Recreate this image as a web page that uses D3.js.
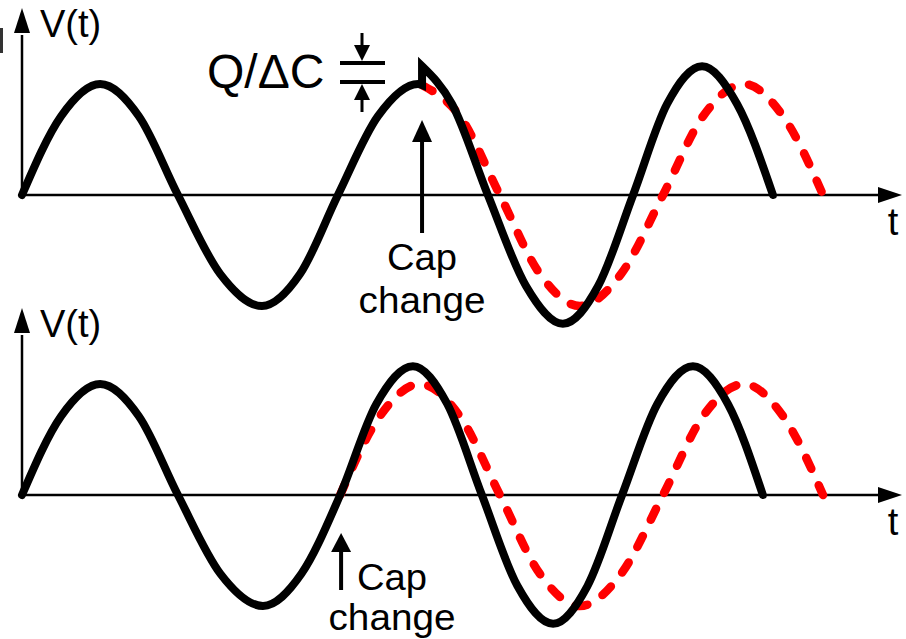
<!DOCTYPE html>
<html>
<head>
<meta charset="utf-8">
<script src="https://cdn.jsdelivr.net/npm/d3@7"></script>
<style>
  html, body { margin: 0; padding: 0; background: #fff; }
  svg { display: block; }
  text { font-family: "Liberation Sans", Arial, sans-serif; fill: #000; }
</style>
</head>
<body>
<div id="chart"></div>
<script>
// time in units of the original period, V in units of the original amplitude
// points (peaks, zero crossings and the points half way between)

// top panel: cap change near the peak, voltage jumps by Q/dC
var topBlackBefore = [[0,0],[0.124,0.71],[0.248,1],[0.371,0.71],[0.495,0],[0.629,-0.71],[0.762,-1],[0.883,-0.71],[1.003,0],[1.13,0.71],[1.257,1],[1.27,0.99]];
var topBlackAfter = [[1.27,1.16],[1.365,0.82],[1.479,0],[1.6,-0.82],[1.717,-1.16],[1.829,-0.82],[1.94,0],[2.048,0.82],[2.159,1.16],[2.27,0.82],[2.384,0]];
var topRed = [[1.27,0.99],[1.39,0.71],[1.517,0],[1.644,-0.71],[1.771,-1],[1.902,-0.71],[2.035,0],[2.162,0.71],[2.292,1],[2.416,0.71],[2.543,0]];

// bottom panel: cap change at the zero crossing
var bottomBlack = [[0,0],[0.124,0.71],[0.248,1],[0.371,0.71],[0.495,0],[0.63,-0.71],[0.765,-1],[0.887,-0.71],[1.01,0],[1.125,0.82],[1.241,1.16],[1.35,0.82],[1.46,0],[1.573,-0.82],[1.686,-1.16],[1.795,-0.82],[1.905,0],[2.017,0.82],[2.13,1.16],[2.241,0.82],[2.352,0]];
var bottomRed = [[1.01,0],[1.136,0.71],[1.263,1],[1.39,0.71],[1.517,0],[1.644,-0.71],[1.771,-1],[1.902,-0.71],[2.035,0],[2.162,0.71],[2.292,1],[2.416,0.71],[2.543,0]];

var capChangeT = [1.27, 1.013];
var axisLabels = ["V(t)", "t"];
var capLabel = ["Cap", "change"];

var width = 906, height = 639;

var svg = d3.select("#chart").append("svg")
    .attr("width", width)
    .attr("height", height);

var x = d3.scaleLinear().domain([0, 2.75]).range([22, 22 + 2.75 * 315]);

var panels = [
    { axisY: 195, black: [topBlackBefore, topBlackAfter], red: topRed },
    { axisY: 495, black: [bottomBlack], red: bottomRed }
];

// small stray mark on the left edge of the original
svg.append("rect").attr("x", 0).attr("y", 28).attr("width", 3).attr("height", 25).attr("fill", "#333");

panels.forEach(function(p, i) {
    var y = d3.scaleLinear().domain([-1, 1]).range([p.axisY + 111, p.axisY - 111]);
    var g = svg.append("g");

    // axes
    g.append("line")
        .attr("x1", x(0)).attr("x2", 880)
        .attr("y1", p.axisY).attr("y2", p.axisY)
        .attr("stroke", "#000").attr("stroke-width", 2.5);
    g.append("path")
        .attr("d", "M878," + (p.axisY - 8) + "L902," + p.axisY + "L878," + (p.axisY + 8) + "Z")
        .attr("fill", "#000");
    g.append("line")
        .attr("x1", x(0)).attr("x2", x(0))
        .attr("y1", p.axisY).attr("y2", p.axisY - 160)
        .attr("stroke", "#000").attr("stroke-width", 2.5);
    g.append("path")
        .attr("d", "M" + (x(0) - 8) + "," + (p.axisY - 162) + "L" + x(0) + "," + (p.axisY - 187) + "L" + (x(0) + 8) + "," + (p.axisY - 162) + "Z")
        .attr("fill", "#000");

    g.append("text")
        .attr("x", 40).attr("y", p.axisY - 158)
        .style("font-size", "38px")
        .text(axisLabels[0]);
    g.append("text")
        .attr("x", 893).attr("y", p.axisY + 40)
        .attr("text-anchor", "middle")
        .style("font-size", "38px")
        .text(axisLabels[1]);

    var line = d3.line()
        .x(function(d) { return x(d[0]); })
        .y(function(d) { return y(d[1]); })
        .curve(d3.curveMonotoneX);

    // original frequency, dashed red
    g.append("path")
        .attr("d", line(p.red))
        .attr("fill", "none")
        .attr("stroke", "#ff0000")
        .attr("stroke-width", 8.5)
        .attr("stroke-linecap", "round")
        .attr("stroke-dasharray", "12,18");

    // actual waveform, black; segments joined with a straight jump
    var d = p.black.map(function(seg, k) {
        var s = line(seg);
        return k === 0 ? s : s.replace(/^M/, "L");
    }).join("");
    g.append("path")
        .attr("d", d)
        .attr("fill", "none")
        .attr("stroke", "#000")
        .attr("stroke-width", 8)
        .attr("stroke-linecap", "round")
        .attr("stroke-linejoin", "miter");
});

// cap change label as one text with two lines
function capText(cx, y0, y1) {
    var t = svg.append("text").attr("text-anchor", "middle").style("font-size", "37px");
    t.append("tspan").attr("x", cx).attr("y", y0).attr("textLength", 70).attr("lengthAdjust", "spacingAndGlyphs").text(capLabel[0]);
    t.append("tspan").attr("x", cx).attr("y", y1).attr("textLength", 127).attr("lengthAdjust", "spacingAndGlyphs").text(capLabel[1]);
}

// cap change arrows and labels
var cx0 = x(capChangeT[0]);
svg.append("line").attr("x1", cx0).attr("x2", cx0).attr("y1", 233).attr("y2", 138)
    .attr("stroke", "#000").attr("stroke-width", 4);
svg.append("path").attr("d", "M" + (cx0 - 10) + ",142L" + cx0 + ",120L" + (cx0 + 10) + ",142Z").attr("fill", "#000");
capText(cx0, 270, 313);

var cx1 = x(capChangeT[1]);
svg.append("line").attr("x1", cx1).attr("x2", cx1).attr("y1", 590).attr("y2", 548)
    .attr("stroke", "#000").attr("stroke-width", 4);
svg.append("path").attr("d", "M" + (cx1 - 10) + ",552L" + cx1 + ",533L" + (cx1 + 10) + ",552Z").attr("fill", "#000");
capText(392, 590, 630);

// Q/dC label with capacitor symbol
svg.append("text").attr("x", 207).attr("y", 88).style("font-size", "48px").text("Q/\u0394C");
var cap = svg.append("g").attr("stroke", "#000").attr("stroke-width", 4);
cap.append("line").attr("x1", 340).attr("x2", 385).attr("y1", 63).attr("y2", 63);
cap.append("line").attr("x1", 340).attr("x2", 385).attr("y1", 82).attr("y2", 82);
cap.append("line").attr("x1", 362).attr("x2", 362).attr("y1", 33).attr("y2", 48).attr("stroke-width", 3);
cap.append("line").attr("x1", 362).attr("x2", 362).attr("y1", 97).attr("y2", 112).attr("stroke-width", 3);
svg.append("path").attr("d", "M354,45L362,61L370,45Z").attr("fill", "#000");
svg.append("path").attr("d", "M354,100L362,84L370,100Z").attr("fill", "#000");
</script>
</body>
</html>
